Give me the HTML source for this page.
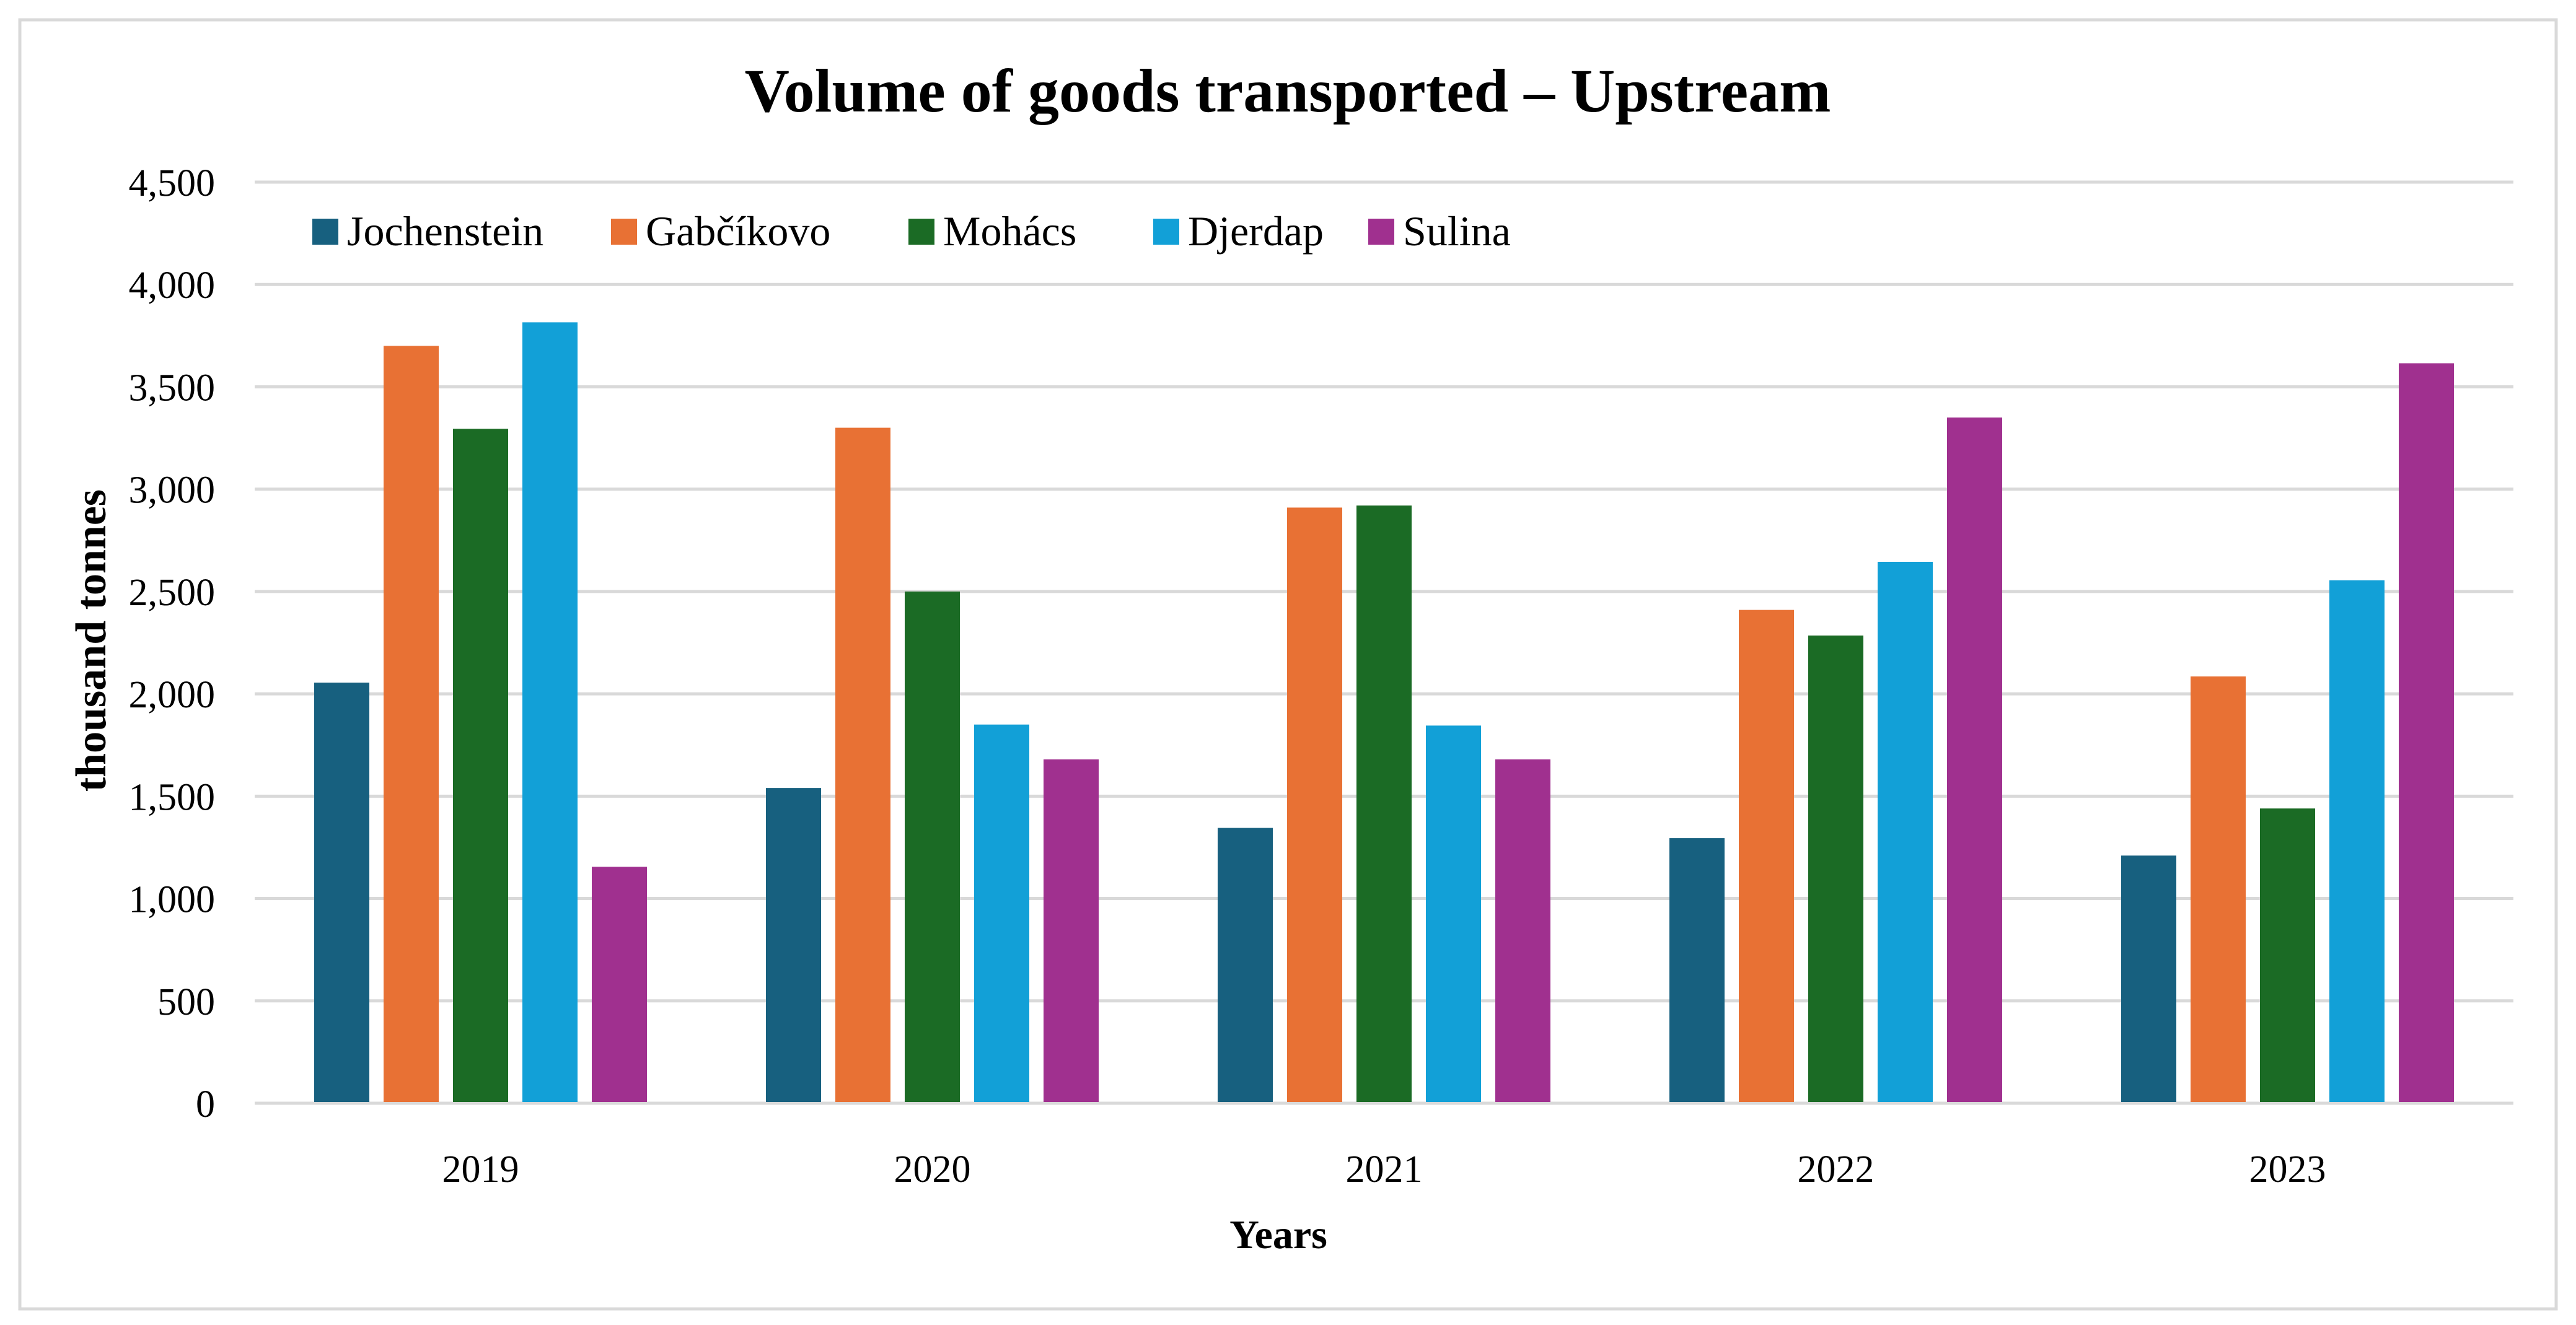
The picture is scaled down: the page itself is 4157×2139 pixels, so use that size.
<!DOCTYPE html>
<html><head><meta charset="utf-8"><style>
html,body{margin:0;padding:0;background:#fff;}
svg{display:block;font-family:"Liberation Serif",serif;}
</style></head><body>
<svg id="chart" width="4157" height="2139" viewBox="0 0 4157 2139" xmlns="http://www.w3.org/2000/svg">
<rect x="32" y="32" width="4093" height="2081" fill="#fff" stroke="#d9d9d9" stroke-width="5"/>
<text x="2078" y="180" text-anchor="middle" font-size="100" font-weight="bold" fill="#000">Volume of goods transported – Upstream</text>
<g id="grid"></g><g id="bars"></g><g id="labels"></g><g id="legend"></g>
<text x="2063" y="2015" text-anchor="middle" font-size="66" font-weight="bold">Years</text>
<text transform="translate(170,1034) rotate(-90)" text-anchor="middle" font-size="70" font-weight="bold">thousand tonnes</text>
</svg>
<script>
const categories = ["2019","2020","2021","2022","2023"];
const seriesNames = ["Jochenstein","Gabčíkovo","Mohács","Djerdap","Sulina"];
const jochenstein = [2055,1540,1345,1295,1210];
const gabcikovo = [3700,3300,2910,2410,2085];
const mohacs = [3295,2500,2920,2285,1440];
const djerdap = [3815,1850,1845,2645,2555];
const sulina = [1155,1680,1680,3350,3615];
const yTicks = [0,500,1000,1500,2000,2500,3000,3500,4000,4500];
const yTickLabels = ["0","500","1,000","1,500","2,000","2,500","3,000","3,500","4,000","4,500"];
const colors = ["#17607f","#e87134","#1b6b25","#12a0d7","#a0308f"];

const NS="http://www.w3.org/2000/svg";
const plotL=411, plotR=4056, y0=1781, yTop=294, yMax=4500;
const y=v=>y0-(v/yMax)*(y0-yTop);
const bandW=(plotR-plotL)/categories.length;
const xc=i=>plotL+bandW*(i+0.5);
const barW=89, pitch=112;
function mk(tag,attrs,parent,txt){const e=document.createElementNS(NS,tag);for(const k in attrs)e.setAttribute(k,attrs[k]);if(txt!==undefined)e.textContent=txt;parent.appendChild(e);return e;}
const grid=document.getElementById('grid'),bars=document.getElementById('bars'),labels=document.getElementById('labels'),legend=document.getElementById('legend');
yTicks.forEach((t,i)=>{
  const l=mk('line',{x1:plotL,x2:plotR,y1:y(t),y2:y(t),stroke:'#d9d9d9','stroke-width':5},grid);
  
  
  const tx=mk('text',{x:347,y:y(t)+22,'text-anchor':'end','font-size':62},labels,yTickLabels[i]);
  
  
});
const all=[jochenstein,gabcikovo,mohacs,djerdap,sulina];
categories.forEach((c,i)=>{
  all.forEach((s,j)=>{
    const x=xc(i)+(j-2)*pitch-barW/2;
    const r=mk('rect',{x:x,y:y(s[i]),width:barW,height:y0-y(s[i])-2,fill:colors[j]},bars);
    
    
  });
  const t=mk('text',{x:xc(i),y:1908,'text-anchor':'middle','font-size':62},labels,c);
  
  
});
const legX=[504,986,1466,1861,2208];
seriesNames.forEach((n,j)=>{
  const g=mk('g',{},legend);
  
  
  mk('rect',{x:legX[j],y:353,width:42,height:42,fill:colors[j]},g);
  mk('text',{x:legX[j]+56,y:396,'font-size':68},g,n);
});
</script>
</body></html>
